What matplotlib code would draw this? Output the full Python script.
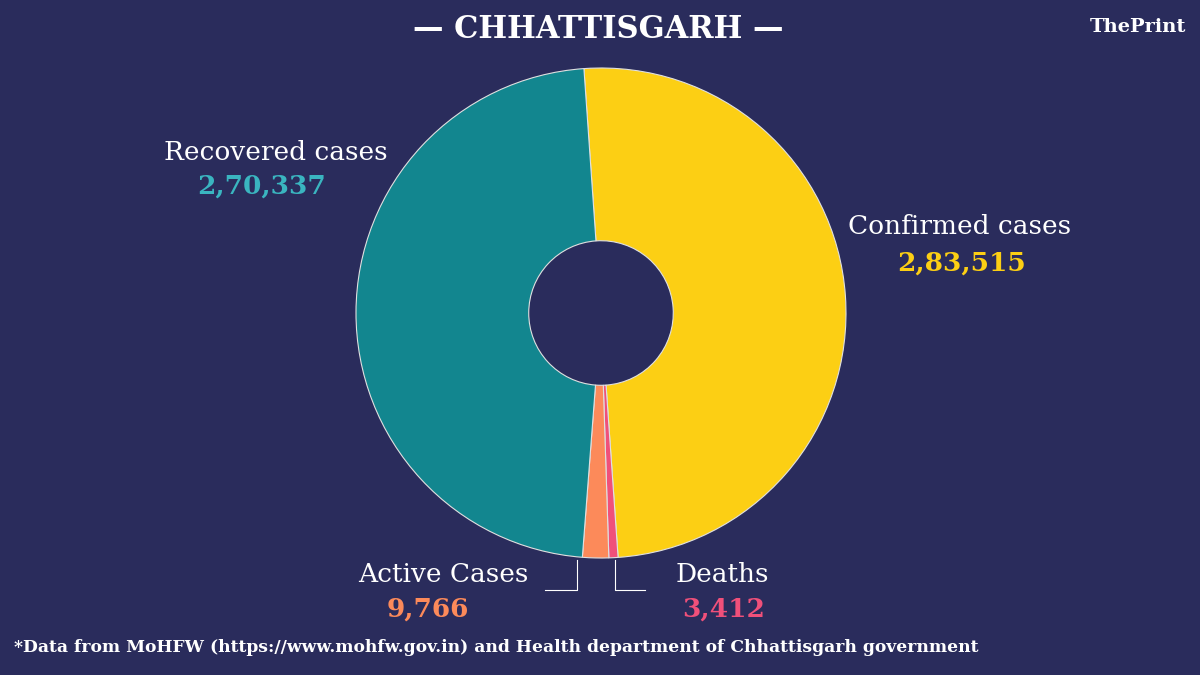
import matplotlib
matplotlib.use("Agg")
import matplotlib.pyplot as plt

labels = ["Confirmed cases", "Deaths", "Active Cases", "Recovered cases"]
values = [283515, 3412, 9766, 270337]
value_text = ["2,83,515", "3,412", "9,766", "2,70,337"]
colors = ["#fccf14", "#f0507a", "#fc8a5a", "#12868f"]
bg = "#2a2c5c"

fig = plt.figure(figsize=(12, 6.75), dpi=100, facecolor=bg)
W, H = 1200, 675
cx, cy, r = 601, 313, 245
ax = fig.add_axes([(cx - r) / W, (H - cy - r) / H, 2 * r / W, 2 * r / H])
ax.set_facecolor(bg)
ax.pie(values, colors=colors, startangle=94, counterclock=False,
       wedgeprops=dict(width=0.705, edgecolor="#e0e0e0", linewidth=0.8))
ax.set_xlim(-1, 1); ax.set_ylim(-1, 1); ax.axis("off")

ff = "DejaVu Serif"
def t(x, y, s, c="white", size=19, w="normal", ha="center"):
    fig.text(x / W, 1 - y / H, s, color=c, fontsize=size, family=ff, weight=w, ha=ha, va="center")

t(598, 30, "\u2014 CHHATTISGARH \u2014", size=22, w="bold")
t(1138, 27, "ThePrint", size=14, w="bold")
t(276, 152, labels[3]); t(262, 186, value_text[3], c="#3ab5c0", w="bold")
t(960, 227, labels[0]); t(962, 263, value_text[0], c=colors[0], w="bold")
t(443, 575, labels[2]); t(428, 609, value_text[2], c=colors[2], w="bold")
t(722, 575, labels[1]); t(724, 609, value_text[1], c=colors[1], w="bold")
t(14, 648, "*Data from MoHFW (https://www.mohfw.gov.in) and Health department of Chhattisgarh government",
  size=12.3, w="bold", ha="left")

for xs in ([577, 577, 545], [615, 615, 645]):
    fig.add_artist(plt.Line2D([x / W for x in xs], [1 - 560 / H, 1 - 590 / H, 1 - 590 / H],
                              color="white", lw=0.8))

fig.savefig("out.png", dpi=100, facecolor=bg)
